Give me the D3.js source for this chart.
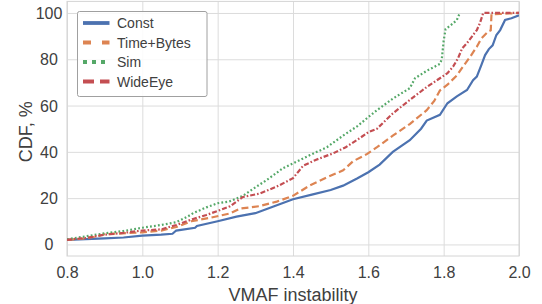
<html>
<style>
    body {
      margin: 0;
      background: #fff;
      font-family: "Liberation Sans", Arial, sans-serif;
    }
    .grid line {
      stroke: #dcdcdc;
      stroke-width: 1;
    }
    .grid path {
      display: none;
    }
    .grid text {
      fill: #404040;
      font-size: 16px;
    }
    .series {
      fill: none;
    }
</style>
<body>
<script src="https://d3js.org/d3.v7.min.js"></script>
<script>
// data: [VMAF instability, CDF %]
const constData = [[0.8,2],[0.85,2.3],[0.9,2.6],[0.95,3],[1.0,3.8],[1.05,4.2],[1.08,4.6],[1.09,6],[1.14,7.2],[1.145,8],
  [1.2,10],[1.25,12],[1.3,13.5],[1.35,16.5],[1.4,19.5],[1.45,21.5],[1.5,23.5],[1.533,25.4],[1.57,28.5],[1.6,31.2],
  [1.63,34.5],[1.665,40],[1.71,45],[1.74,50],[1.755,53.5],[1.79,56],[1.81,61],[1.835,64],[1.862,66.7],[1.878,71],
  [1.888,72.5],[1.9,77.5],[1.91,81.8],[1.92,84.4],[1.93,86],[1.94,90.5],[1.95,92.6],[1.963,97],[1.98,97.7],[2.0,99]]
const timeBytesData = [[0.8,2],[0.85,2.6],[0.88,3.5],[0.9,4.4],[1.0,5.2],[1.05,6],[1.09,7.5],[1.13,10],[1.18,11.5],
  [1.233,13.4],[1.26,15.5],[1.31,16.5],[1.357,18.5],[1.4,21],[1.445,25.5],[1.49,29],[1.533,32],[1.56,36],[1.596,39],
  [1.623,42],[1.665,47],[1.71,52],[1.755,58],[1.775,62],[1.79,66.5],[1.81,69],[1.835,73],[1.852,77],[1.87,81],
  [1.888,85.4],[1.9,89],[1.918,92],[1.925,92.5],[1.927,99.5],[1.95,99.6],[2.0,100]]
const simData = [[0.8,2.2],[0.85,3.5],[0.9,4.8],[0.95,5.8],[1.0,7.2],[1.05,8.4],[1.09,9.6],[1.12,12],[1.135,13.5],
  [1.17,16],[1.2,17.8],[1.23,18.5],[1.267,21],[1.294,24],[1.33,27.8],[1.374,33],[1.4,35],[1.445,38.6],[1.49,42],
  [1.533,47],[1.57,51],[1.6,55],[1.623,58],[1.665,63],[1.71,67.5],[1.724,71.8],[1.755,75],[1.79,78],[1.795,80],
  [1.8,88],[1.805,93],[1.825,95.5],[1.835,97],[1.843,100]]
const wideEyeData = [[0.8,2],[0.85,2.8],[0.9,4.2],[0.95,5],[1.0,6],[1.05,6.5],[1.09,8.4],[1.135,11],[1.17,12.7],
  [1.2,14.5],[1.233,16.5],[1.267,20.5],[1.312,22],[1.357,25],[1.4,28.6],[1.427,34],[1.46,36.5],[1.507,39.4],
  [1.54,42],[1.578,46],[1.6,48.5],[1.623,50],[1.665,56.6],[1.71,62.4],[1.755,68],[1.79,71.8],[1.81,74],[1.825,76.8],
  [1.838,80.4],[1.849,84.7],[1.862,87],[1.875,89.8],[1.888,92.6],[1.896,95.5],[1.905,100],[2.0,100]]

const seriesNames = ["Const", "Time+Bytes", "Sim", "WideEye"]
const seriesData = [constData, timeBytesData, simData, wideEyeData]
const seriesColors = ["#4c72b0", "#dd8452", "#55a868", "#c44e52"]
const lineDash = [null, "7,3.5", "1.8,2.2", "5,2,1.6,2"]
const legendDash = [null, "8,11", "4,5", "11,6"]

const xTicks = [0.8, 1.0, 1.2, 1.4, 1.6, 1.8, 2.0]
const yTicks = [0, 20, 40, 60, 80, 100]

const W = 542, H = 304
const plot = {left: 67, right: 519, top: 1.4, bottom: 256}

const svg = d3.select("body").append("svg")
    .attr("width", W)
    .attr("height", H)

const x = d3.scaleLinear().domain([0.8, 2.0]).range([plot.left, plot.right])
const y = d3.scaleLinear().domain([-5, 105]).range([plot.bottom, plot.top])

// grid + tick labels
svg.append("g")
    .attr("class", "grid")
    .attr("transform", `translate(0,${plot.bottom})`)
    .call(d3.axisBottom(x).tickValues(xTicks).tickFormat(d3.format(".1f"))
        .tickSize(-(plot.bottom - plot.top)).tickPadding(10.5))

svg.append("g")
    .attr("class", "grid")
    .attr("transform", `translate(${plot.left},0)`)
    .call(d3.axisLeft(y).tickValues(yTicks)
        .tickSize(-(plot.right - plot.left)))
    .selectAll("text")
    .attr("x", -18)
    .attr("dy", "0.34em")
    .attr("text-anchor", "middle")

// frame
svg.append("rect")
    .attr("x", plot.left).attr("y", plot.top)
    .attr("width", plot.right - plot.left).attr("height", plot.bottom - plot.top)
    .attr("fill", "none").attr("stroke", "#d4d4d4")

svg.append("clipPath").attr("id", "clip")
  .append("rect")
    .attr("x", plot.left).attr("y", plot.top)
    .attr("width", plot.right - plot.left).attr("height", plot.bottom - plot.top)

const line = d3.line().x(d => x(d[0])).y(d => y(d[1]))

svg.append("g").attr("clip-path", "url(#clip)")
  .selectAll("path")
  .data(seriesData)
  .join("path")
    .attr("class", "series")
    .attr("d", line)
    .attr("stroke", (d, i) => seriesColors[i])
    .attr("stroke-width", 2.2)
    .attr("stroke-dasharray", (d, i) => lineDash[i])

// axis titles
svg.append("text")
    .attr("x", (plot.left + plot.right) / 2)
    .attr("y", 301)
    .attr("text-anchor", "middle")
    .attr("fill", "#404040")
    .attr("font-size", 18)
    .text("VMAF instability")

svg.append("text")
    .attr("transform", `translate(32,${(plot.top + plot.bottom) / 2 + 3}) rotate(-90)`)
    .attr("text-anchor", "middle")
    .attr("fill", "#404040")
    .attr("font-size", 18)
    .text("CDF, %")

// legend
const legend = svg.append("g")
legend.append("rect")
    .attr("x", 77.5).attr("y", 11.5)
    .attr("width", 129.5).attr("height", 85)
    .attr("rx", 2)
    .attr("fill", "#fff").attr("fill-opacity", 0.85)
    .attr("stroke", "#a0a0a0").attr("stroke-width", 1)

const item = legend.selectAll("g.item")
  .data(seriesNames)
  .join("g")
    .attr("class", "item")
    .attr("transform", (d, i) => `translate(0,${23 + i * 19.5})`)

item.append("line")
    .attr("x1", 83).attr("x2", 109.5)
    .attr("stroke", (d, i) => seriesColors[i])
    .attr("stroke-width", 3.8)
    .attr("stroke-dasharray", (d, i) => legendDash[i])

item.append("text")
    .attr("x", 117)
    .attr("dy", "0.36em")
    .attr("fill", "#404040")
    .attr("font-size", 14)
    .text(d => d)
</script>
</body>
</html>
